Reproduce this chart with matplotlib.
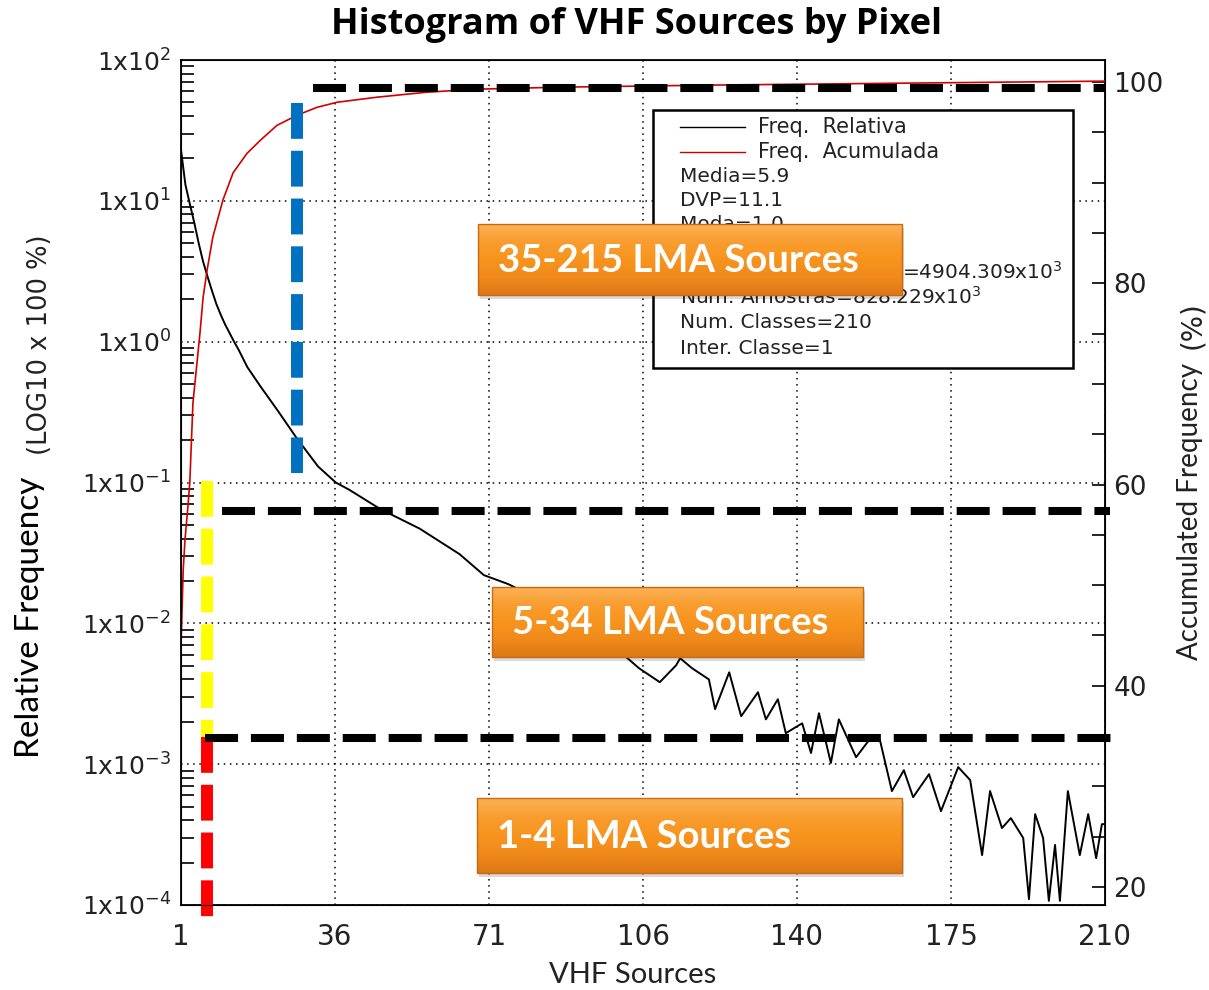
"""histogram of VHF sources by pixel (relative and accumulated frequency)"""

import numpy as np
import matplotlib
matplotlib.use("Agg")
import matplotlib.pyplot as plt
from matplotlib.patches import Rectangle
from matplotlib.colors import LinearSegmentedColormap
from matplotlib.ticker import FixedLocator, MultipleLocator, LogLocator, NullFormatter

# relative frequency (% , log axis)
rel_x = [1, 2, 3, 4, 5, 6, 7, 8, 9, 10, 11, 12, 13, 14, 16, 19, 23, 27, 32, 36,
         39, 46, 55, 64, 69.5, 75, 82, 89, 96, 102, 104.6, 109.3, 113, 113.9,
         116.6, 120.4, 121.8, 125, 127.7, 131.5, 133.3, 136, 137.8, 141.5,
         143.5, 145.3, 148, 149.8, 153.7, 157.3, 159.1, 161.8, 164.5, 166.6,
         170.2, 172.9, 176.8, 179.5, 182.2, 184, 186.7, 188.7, 191.5, 192.8,
         194.2, 196, 197.3, 198.7, 199.8, 201.6, 204.3, 206.2, 208, 209.3, 210]
rel_y = [23, 13, 9.5, 7.0, 5.0, 3.7, 2.9, 2.3, 1.85, 1.55, 1.32, 1.15, 1.0, 0.88,
         0.66, 0.48, 0.32, 0.21, 0.13, 0.10,
         0.089, 0.065, 0.047, 0.031, 0.022, 0.019, 0.0148, 0.0115, 0.0078,
         0.00565, 0.0048, 0.00382, 0.00504, 0.00565,
         0.0048, 0.0040, 0.00246, 0.00449, 0.00219, 0.00324, 0.00208, 0.00289,
         0.00166, 0.00195, 0.00120, 0.00230, 0.00102, 0.00208, 0.00112,
         0.00158, 0.00148, 0.000644, 0.000906, 0.000583, 0.000849, 0.000464,
         0.000953, 0.000771, 0.000226, 0.000644, 0.000352, 0.000414, 0.000299,
         0.000110, 0.000442, 0.000299, 0.000107, 0.000267, 0.000107, 0.000644,
         0.000226, 0.000442, 0.000215, 0.000375, 0.000375]

# accumulated frequency (%, right axis)
acc_x = [1, 1, 1.5, 1.9, 2.6, 3.0, 3.7, 5.3, 6.0, 6.9, 8.2, 10.5, 12.8, 15.9,
         18.9, 22.7, 27.2, 31.8, 36.3, 45.3, 56.6, 68, 87, 120, 165, 210]
acc_y = [36.8, 44.0, 51.5, 54.5, 58.0, 60.3, 68.1, 75.1, 78.6, 81.3, 84.6, 88.3,
         91.0, 92.9, 94.2, 95.7, 96.7, 97.5, 98.0, 98.5, 99.0, 99.3, 99.5, 99.7,
         99.9, 100.1]

x_ticks = [1, 35.83, 70.67, 105.5, 140.33, 175.17, 210]
x_tick_labels = ["1", "36", "71", "106", "140", "175", "210"]
left_ticks = [1e-4, 1e-3, 1e-2, 1e-1, 1e0, 1e1, 1e2]
left_tick_labels = [r"1x10$^{-4}$", r"1x10$^{-3}$", r"1x10$^{-2}$", r"1x10$^{-1}$",
                    r"1x10$^{0}$", r"1x10$^{1}$", r"1x10$^{2}$"]
right_ticks = [20, 40, 60, 80, 100]

legend_lines = ["Media=5.9", "DVP=11.1", "Moda=1.0"]
legend_lower = ["Num. Amostras=828.229x10$^3$", "Num. Classes=210", "Inter. Classe=1"]

# class limits marked on the chart: (x, y_from, y_to) on the log axis
blue_mark = (27.2, 49.5, 0.116)
yellow_mark = (6.9, 0.103, 0.0015)
red_mark = (6.9, 0.00155, 8.2e-5)
# (y on accumulated axis, x_from, x_to)
black_marks = [(99.4, 30.9, 210), (57.4, 10.3, 211.2), (34.8, 6.4, 211.8)]

W, H = 1209, 990
fig = plt.figure(figsize=(W / 100, H / 100), dpi=100)
fig.patch.set_facecolor("white")

ax = fig.add_axes([181 / W, 1 - 905 / H, (1105 - 181) / W, (905 - 60) / H])
ax.set_yscale("log")
ax.set_xlim(1, 210)
ax.set_ylim(1e-4, 1e2)
ax.plot(rel_x, rel_y, color="black", lw=1.4)

ax.xaxis.set_major_locator(FixedLocator(x_ticks))
ax.set_xticklabels(x_tick_labels)
ax.yaxis.set_major_locator(FixedLocator(left_ticks))
ax.set_yticklabels(left_tick_labels)
ax.yaxis.set_minor_locator(LogLocator(base=10, subs=np.arange(2, 10), numticks=20))
ax.yaxis.set_minor_formatter(NullFormatter())
ax.tick_params(axis="x", which="major", length=0, pad=13, labelsize=20, labelcolor="#222222")
ax.tick_params(axis="y", which="major", length=0, pad=7, labelsize=18, labelcolor="#222222")
ax.tick_params(axis="y", which="minor", direction="in", length=9.5, width=1.2,
               left=True, right=False)
ax.grid(True, which="major", color="black", linestyle=(0, (1, 3)), lw=1.1)
for sp in ax.spines.values():
    sp.set_linewidth(1.3)

ax2 = ax.twinx()
ax2.set_ylim(18.2, 102.2)
ax2.plot(acc_x, acc_y, color="#d00000", lw=1.2)
ax2.set_yticks(right_ticks)
ax2.yaxis.set_minor_locator(MultipleLocator(5))
ax2.tick_params(axis="y", which="both", direction="in", length=9.5, width=1.2,
                pad=6, labelsize=19, labelcolor="#222222")

# marks for the source classes
xm, y0, y1 = blue_mark
ax2.plot([xm, xm], [y0, y1], transform=ax.transData, color="#0070c0", lw=8.6,
         dashes=(3.0, 1.0), dash_capstyle="butt", clip_on=False)
xm, y0, y1 = yellow_mark
ax2.plot([xm, xm], [y0, y1], transform=ax.transData, color="#ffff00", lw=8.6,
         dashes=(3.0, 1.0), dash_capstyle="butt", clip_on=False)
xm, y0, y1 = red_mark
ax2.plot([xm, xm], [y0, y1], transform=ax.transData, color="#ff0000", lw=8.6,
         dashes=(3.0, 1.0), dash_capstyle="butt", clip_on=False)
for ym, x0, x1 in black_marks:
    ax2.plot([x0, x1], [ym, ym], color="black", lw=5.8, dashes=(4.1, 1.6),
             dash_capstyle="butt", clip_on=False)

# overlay in pixel coordinates for legend, labels and callout boxes
ov = fig.add_axes([0, 0, 1, 1])
ov.set_xlim(0, W)
ov.set_ylim(H, 0)
ov.axis("off")
ov.patch.set_alpha(0)

ov.text(637, 25, "Histogram of VHF Sources by Pixel", ha="center", va="center",
        fontsize=26, fontweight="bold", family="Open Sans")
ov.text(633, 975, "VHF Sources", ha="center", va="center", fontsize=21, family="Lato",
        color="#222222")
ov.text(30, 617, "Relative Frequency", rotation=90, ha="center", va="center",
        fontsize=24, family="Lato")
ov.text(40, 345, "(LOG10 x 100 %)", rotation=90, ha="center", va="center",
        fontsize=18.5, color="#222222")
ov.text(1190, 512, "Accumulated Frequency", rotation=90, ha="center", va="center",
        fontsize=20, family="Lato", color="#222222")
ov.text(1192, 325, "(%)", rotation=90, ha="center", va="center", fontsize=20,
        color="#222222")

# legend box
ov.add_patch(Rectangle((653, 110), 420, 258, fc="white", ec="black", lw=1.8, zorder=2))
ov.plot([680, 745], [127, 127], color="black", lw=1.0, zorder=3)
ov.plot([680, 745], [152, 152], color="#d00000", lw=1.0, zorder=3)
ov.text(758, 127, "Freq.  Relativa", va="center", fontsize=15, color="#222222", zorder=3)
ov.text(758, 152, "Freq.  Acumulada", va="center", fontsize=15, color="#222222", zorder=3)
for i, s in enumerate(legend_lines):
    ov.text(680, 176 + 24.3 * i, s, va="center", fontsize=14.5, color="#222222", zorder=3)
ov.text(1062, 272, "=4904.309x10$^3$", ha="right", va="center", fontsize=14.5,
        color="#222222", zorder=3)
for i, s in enumerate(legend_lower):
    ov.text(680, 297 + 25.5 * i, s, va="center", fontsize=14.5, color="#222222", zorder=3)

cmap = LinearSegmentedColormap.from_list(
    "orange", ["#fcb257", "#f99d2f", "#f7941d", "#f08a1b", "#dd7816"])
grad = np.linspace(0, 1, 80).reshape(-1, 1)


def orange_box(x0, y0, x1, y1, label):
    ov.add_patch(Rectangle((x0 + 2, y0 + 4), x1 - x0, y1 - y0, fc="#000000",
                           alpha=0.15, ec="none", zorder=4))
    ov.imshow(grad, extent=(x0, x1, y1, y0), cmap=cmap, aspect="auto", zorder=5)
    ov.add_patch(Rectangle((x0, y0), x1 - x0, y1 - y0, fill=False, ec="#c96a12",
                           lw=1.0, zorder=6))
    ov.text(x0 + 20, (y0 + y1) / 2 + 1, label, va="center", ha="left", fontsize=27.5,
            fontweight="bold", family="Lato", color="white", zorder=7)


orange_box(478, 224, 902, 295, "35-215 LMA Sources")
orange_box(492, 587, 863, 657, "5-34 LMA Sources")
orange_box(477, 798, 902, 873, "1-4 LMA Sources")
ov.set_xlim(0, W)
ov.set_ylim(H, 0)

fig.savefig("out.png", dpi=100)
